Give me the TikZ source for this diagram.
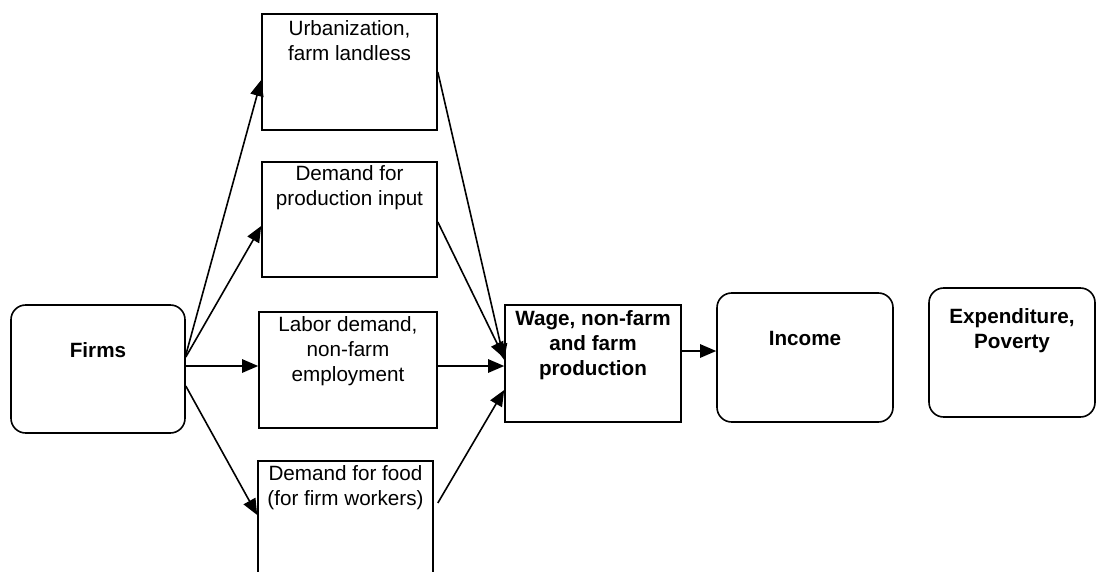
\documentclass[tikz,border=0pt]{standalone}
\usepackage{fontspec}
\setmainfont{Liberation Sans}
\usetikzlibrary{arrows.meta,positioning}
\newdimen\px \px=0.75pt

\tikzset{
  box/.style={draw, line width=1.2pt, inner sep=0pt},
  rbox/.style={box, rounded corners=11pt},
  txt/.style={align=center, inner sep=0pt, font=\fontsize{15.5}{18.75}\selectfont},
  btxt/.style={align=center, inner sep=0pt, font=\fontsize{15.5}{18.75}\selectfont\bfseries},
  link/.style={line width=1.2pt, -{Triangle[length=12pt,width=10pt]}}
}

\begin{document}
\begin{tikzpicture}[x=0.75pt, y=-0.75pt]
  \useasboundingbox (0,0) rectangle (1098,571);

  % Boxes
  \node[rbox, minimum width=174\px, minimum height=128\px] (firms) at (98,369) {};
  \node[box, minimum width=175\px, minimum height=116\px] (urb) at (349.5,72) {};
  \node[box, minimum width=175\px, minimum height=115\px] (prod) at (349.5,219.5) {};
  \node[box, minimum width=178\px, minimum height=116\px] (labor) at (348,370) {};
  \node[box, minimum width=175\px, minimum height=116\px] (food) at (345.5,519) {};
  \node[box, minimum width=176\px, minimum height=117\px] (wage) at (593,363.5) {};
  \node[rbox, minimum width=176\px, minimum height=129\px] (income) at (805,357.5) {};
  \node[rbox, minimum width=166\px, minimum height=129\px] (expend) at (1012,352.5) {};

  % Texts
  \node[btxt] (firmsT) at (98,350) {Firms};
  \node[txt] (urbT) at (349.5,40.5) {Urbanization,\\farm landless};
  \node[txt] (prodT) at (349.5,187.5) {Demand for\\production input};
  \node[txt] (laborT) at (348,351) {Labor demand,\\non-farm\\employment};
  \node[txt] (foodT) at (345.5,487.5) {Demand for food\\(for firm workers)};
  \node[btxt] (wageT) at (593,345) {Wage, non-farm\\and farm\\production};
  \node[btxt] (incomeT) at (805,338) {Income};
  \node[btxt] (expendT) at (1012,330.5) {Expenditure,\\Poverty};

  % Arrows
  \draw[link] ([yshift=14\px]firms.east) -- ([yshift=-8\px]urb.west);
  \draw[link] ([yshift=12\px]firms.east) -- ([yshift=-6.5\px]prod.west);
  \draw[link] ([yshift=3\px]firms.east) -- ([yshift=3\px]firms.east -| labor.west);
  \draw[link] ([yshift=-17\px]firms.east) -- ([yshift=4\px]food.west);

  \draw[link] (urb.east) -- ([yshift=3.5\px]wage.west);
  \draw[link] ([yshift=-2.5\px]prod.east) -- ([yshift=5.5\px]wage.west);
  \draw[link] ([yshift=4\px]labor.east) -- ([yshift=4\px]labor.east -| wage.west);
  \draw[link] ([xshift=4\px,yshift=16\px]food.east) -- ([yshift=-26.5\px]wage.west);

  \draw[link] ([yshift=12.5\px]wage.east) -- ([yshift=12.5\px]wage.east -| income.west);
\end{tikzpicture}
\end{document}
